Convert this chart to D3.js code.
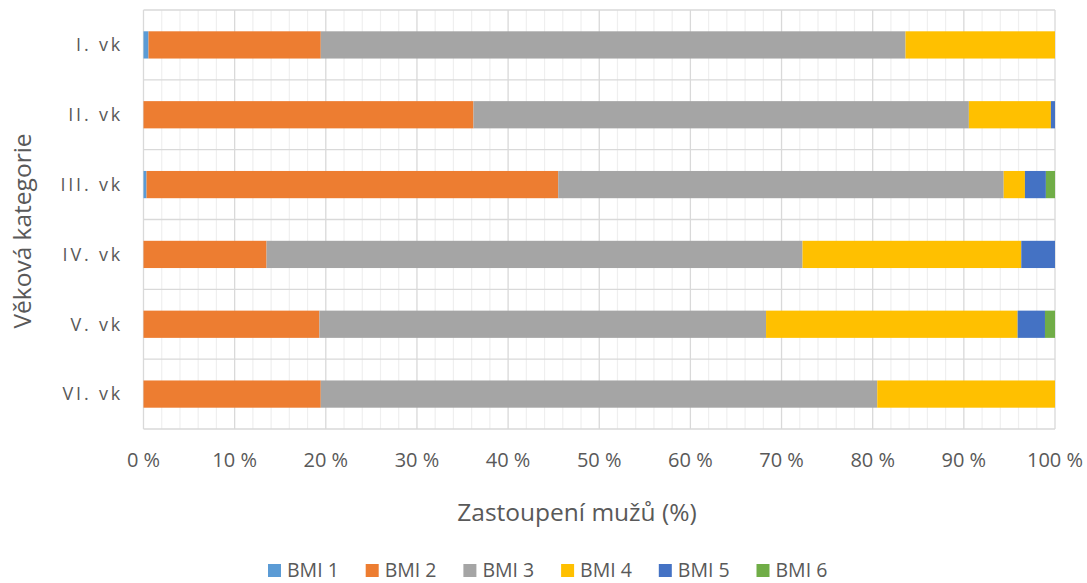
<!DOCTYPE html>
<html>
<head>
<meta charset="utf-8">
<script src="https://cdn.jsdelivr.net/npm/d3@7"></script>
<style>
  body { margin: 0; background: #fff; }
  text { font-family: "Open Sans", sans-serif; fill: #595959; }
</style>
</head>
<body>
<script>
// chart size
var w = 1087;
var h = 583;

// age groups (top to bottom)
var categories = ["I. vk", "II. vk", "III. vk", "IV. vk", "V. vk", "VI. vk"];

// share of men in each BMI class, percent
var bmi1 = [0.55, 0,     0.33,  0,    0,    0];
var bmi2 = [18.9, 36.2,  45.17, 13.5, 19.3, 19.45];
var bmi3 = [64.15, 54.35, 48.87, 58.8, 49.0, 61.05];
var bmi4 = [16.4, 9.0,   2.33,  24.0, 27.6, 19.5];
var bmi5 = [0,    0.45,  2.3,   3.7,  3.0,  0];
var bmi6 = [0,    0,     1.0,   0,    1.1,  0];

var seriesNames = ["BMI 1", "BMI 2", "BMI 3", "BMI 4", "BMI 5", "BMI 6"];
var seriesValues = [bmi1, bmi2, bmi3, bmi4, bmi5, bmi6];
var colors = ["#5B9BD5", "#ED7D31", "#A5A5A5", "#FFC000", "#4472C4", "#70AD47"];

var xTicks = [0, 10, 20, 30, 40, 50, 60, 70, 80, 90, 100];

// rows for the stack layout
var rows = categories.map(function(c, i) {
  var r = { cat: c };
  seriesNames.forEach(function(s, j) { r[s] = seriesValues[j][i]; });
  return r;
});

var margin = { left: 143.5, right: 1055, top: 10, bottom: 429 };

var svg = d3.select("body")
            .append("svg")
            .attr("width", w)
            .attr("height", h);

var x = d3.scaleLinear().domain([0, 100]).range([margin.left, margin.right]);
var y = d3.scaleBand().domain(categories).range([margin.top, margin.bottom])
          .paddingInner(0.61).paddingOuter(0.305);
var yRow = d3.scaleBand().domain(categories).range([margin.top, margin.bottom]);

// minor gridlines every 2 %
svg.append("g").selectAll("line")
  .data(d3.range(0, 101, 2).filter(function(d) { return d % 10 !== 0; }))
  .enter().append("line")
  .attr("x1", function(d) { return x(d); })
  .attr("x2", function(d) { return x(d); })
  .attr("y1", margin.top).attr("y2", margin.bottom)
  .attr("stroke", "#efefef").attr("stroke-width", 1.2);

// horizontal lines between categories
svg.append("g").selectAll("line")
  .data(categories)
  .enter().append("line")
  .attr("x1", margin.left).attr("x2", margin.right)
  .attr("y1", function(d) { return yRow(d); })
  .attr("y2", function(d) { return yRow(d); })
  .attr("stroke", "#d9d9d9").attr("stroke-width", 1.3);

svg.append("line")
  .attr("x1", margin.left).attr("x2", margin.right)
  .attr("y1", margin.bottom).attr("y2", margin.bottom)
  .attr("stroke", "#d9d9d9").attr("stroke-width", 1.3);

// major gridlines every 10 %
svg.append("g").selectAll("line")
  .data(xTicks)
  .enter().append("line")
  .attr("x1", function(d) { return x(d); })
  .attr("x2", function(d) { return x(d); })
  .attr("y1", margin.top).attr("y2", margin.bottom)
  .attr("stroke", "#d9d9d9").attr("stroke-width", 1.3);

// stacked bars
var stack = d3.stack().keys(seriesNames)(rows);

svg.append("g").selectAll("g")
  .data(stack)
  .enter().append("g")
  .attr("fill", function(d, i) { return colors[i]; })
  .selectAll("rect")
  .data(function(d) { return d; })
  .enter().append("rect")
  .attr("x", function(d) { return x(d[0]); })
  .attr("y", function(d) { return y(d.data.cat); })
  .attr("width", function(d) { return Math.max(0, x(d[1]) - x(d[0])); })
  .attr("height", y.bandwidth());

// category labels
svg.append("g").selectAll("text")
  .data(categories)
  .enter().append("text")
  .attr("x", 123)
  .attr("y", function(d) { return yRow(d) + yRow.bandwidth() / 2; })
  .attr("dy", "0.35em")
  .attr("text-anchor", "end")
  .style("font-size", "18px")
  .style("letter-spacing", "2.8px")
  .text(function(d) { return d; });

// x tick labels
svg.append("g").selectAll("text")
  .data(xTicks)
  .enter().append("text")
  .attr("x", function(d) { return x(d); })
  .attr("y", 467)
  .attr("text-anchor", "middle")
  .style("font-size", "20px")
  .text(function(d) { return d + " %"; });

// axis titles
svg.append("text")
  .attr("x", 577)
  .attr("y", 521)
  .attr("text-anchor", "middle")
  .style("font-size", "24.5px")
  .text("Zastoupení mužů (%)");

svg.append("text")
  .attr("transform", "translate(31,231) rotate(-90)")
  .attr("text-anchor", "middle")
  .style("font-size", "24.5px")
  .text("Věková kategorie");

// legend
var legend = svg.append("g").selectAll("g")
  .data(seriesNames)
  .enter().append("g")
  .attr("transform", function(d, i) { return "translate(" + (268 + i * 97.7) + ",564)"; });

legend.append("rect")
  .attr("width", 13).attr("height", 13)
  .attr("fill", function(d, i) { return colors[i]; });

legend.append("text")
  .attr("x", 19).attr("y", 13)
  .style("font-size", "19.5px")
  .text(function(d) { return d; });
</script>
</body>
</html>
